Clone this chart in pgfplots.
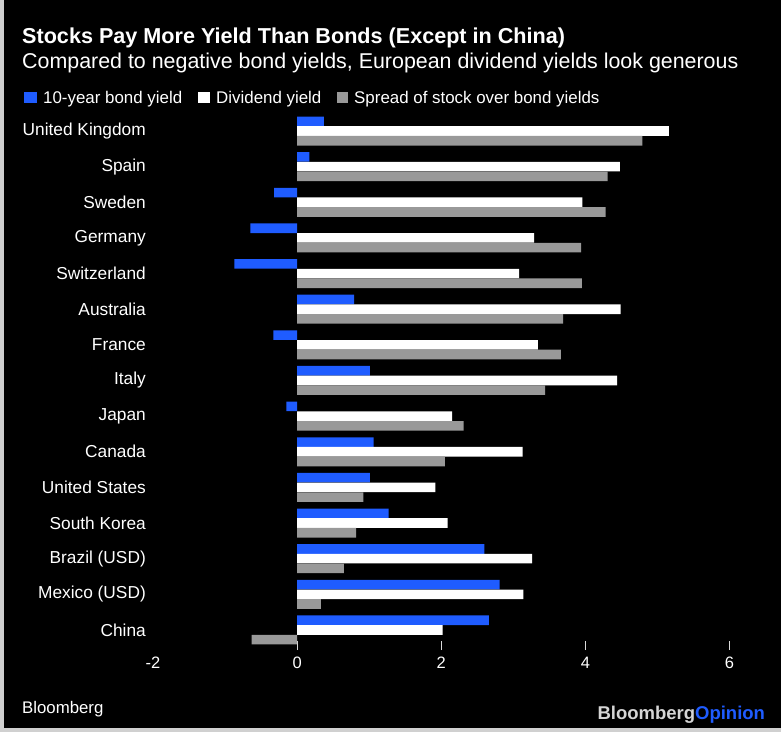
\documentclass[border=0pt]{standalone}
\usepackage{pgfplots}
\pgfplotsset{compat=1.18}
\usepackage{fontspec}
\setmainfont{Liberation Sans}

\definecolor{bbblue}{HTML}{1F5CFF}
\definecolor{bbgray}{HTML}{999999}
\definecolor{edge}{HTML}{D0D0D0}

\newcommand{\fs}[1]{\fontsize{#1bp}{#1bp}\selectfont}

\begin{document}
\begin{tikzpicture}
\begin{scope}[x=1bp,y=1bp]
  \useasboundingbox (0,0) rectangle (781,732);
  \fill[edge] (0,0) rectangle (781,732);
  \fill[black] (3.5,4) rectangle (781,732);

  % titles
  \node[anchor=base west,inner sep=0,text=white,font=\fs{21.6}\bfseries] at (22,688.7)
    {Stocks Pay More Yield Than Bonds (Except in China)};
  \node[anchor=base west,inner sep=0,text=white,font=\fs{21.4}] at (22,663.7)
    {Compared to negative bond yields, European dividend yields look generous};

  % legend
  \fill[bbblue] (24,628.7) rectangle (36.5,640);
  \fill[white] (198,628.7) rectangle (209.5,640);
  \fill[bbgray] (336.5,628.7) rectangle (347.5,640);
  \node[anchor=base west,inner sep=0,text=white,font=\fs{16.9}] at (43,628.7) {10-year bond yield};
  \node[anchor=base west,inner sep=0,text=white,font=\fs{16.9}] at (216,628.7) {Dividend yield};
  \node[anchor=base west,inner sep=0,text=white,font=\fs{16.9}] at (354,628.7) {Spread of stock over bond yields};

  % footer
  \node[anchor=base west,inner sep=0,text=white,font=\fs{16.8}] at (22,18.7) {Bloomberg};
  \node[anchor=base west,inner sep=0,font=\fs{18.5}\bfseries] at (597.3,12)
    {\textcolor{edge!90!white}{Bloomberg}\textcolor{bbblue}{Opinion}};
\end{scope}

  \begin{axis}[
      at={(153bp,91bp)}, anchor=south west,
      scale only axis,
      width=576.5bp, height=527.8bp,
      xmin=-2, xmax=6,
      ymin=-0.5, ymax=14.31,
      y dir=reverse,
      xbar, bar width=9.6bp,
      axis line style={draw=none},
      xtick={0,2,4,6},
      extra x ticks={-2},
      extra x tick style={x tick style={draw=none}},
      xtick pos=bottom,
      tick align=outside,
      major tick length=9bp,
      x tick style={draw=edge!80,line width=0.8bp},
      /pgf/number format/assume math mode=true,
      xticklabel style={text=white,font=\fs{16.5},inner sep=0pt,anchor=base,yshift=-18bp},
      ytick={0,...,14},
      yticklabels={United Kingdom,Spain,Sweden,Germany,Switzerland,Australia,France,Italy,Japan,Canada,United States,South Korea,Brazil (USD),Mexico (USD),China},
      y tick style={draw=none},
      ytick pos=left,
      yticklabel style={text=white,font=\fs{17.3},inner sep=0pt,anchor=east,xshift=2bp},
      clip=false,
    ]
    \addplot[fill=bbblue,draw=none,bar shift=9.7bp] coordinates {
      (0.37,0) (0.17,1) (-0.32,2) (-0.65,3) (-0.87,4) (0.79,5) (-0.33,6) (1.01,7)
      (-0.15,8) (1.06,9) (1.01,10) (1.27,11) (2.60,12) (2.81,13) (2.66,14)};
    \addplot[fill=white,draw=none,bar shift=0bp] coordinates {
      (5.16,0) (4.48,1) (3.96,2) (3.29,3) (3.08,4) (4.49,5) (3.34,6) (4.44,7)
      (2.15,8) (3.13,9) (1.92,10) (2.09,11) (3.26,12) (3.14,13) (2.02,14)};
    \addplot[fill=bbgray,draw=none,bar shift=-9.7bp] coordinates {
      (4.79,0) (4.31,1) (4.28,2) (3.94,3) (3.95,4) (3.69,5) (3.66,6) (3.44,7)
      (2.31,8) (2.05,9) (0.92,10) (0.82,11) (0.65,12) (0.33,13) (-0.63,14)};
  \end{axis}
\end{tikzpicture}
\end{document}
